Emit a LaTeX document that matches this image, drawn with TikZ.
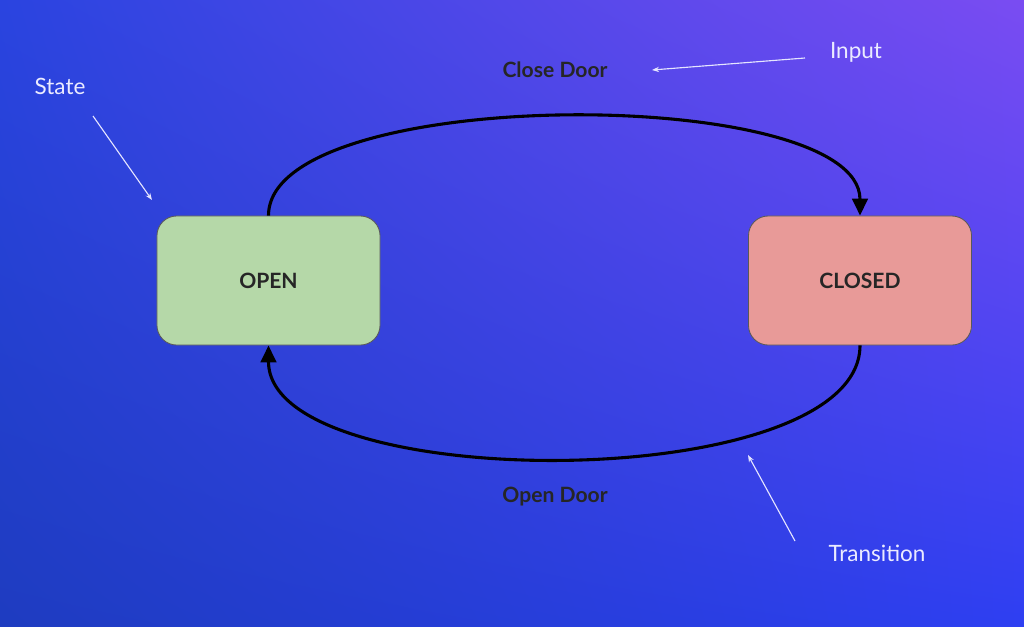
\documentclass[tikz,border=0pt]{standalone}
\usepackage{fontspec}
\setmainfont{Lato}
\usetikzlibrary{arrows.meta,shadings}
\definecolor{bgA}{HTML}{2E3FF2}
\definecolor{bgBL}{HTML}{1E3CC0}
\definecolor{bgTR}{HTML}{7A4CF2}
\definecolor{bgTL}{HTML}{2A44E0}
\definecolor{openc}{HTML}{B5D8A8}
\definecolor{closedc}{HTML}{E89A98}
\begin{document}
\begin{tikzpicture}[x=0.025cm,y=-0.025cm,
  state/.style={draw=gray!70!black,line width=0.6pt,rounded corners=14pt,minimum width=5.575cm,minimum height=3.225cm,font=\fontsize{15}{18}\selectfont\bfseries,text=black!85},
  trans/.style={line width=2.2pt,black,-{Triangle[length=12pt,width=11pt]}},
  lab/.style={font=\fontsize{15}{18}\selectfont\bfseries,text=black!85},
  note/.style={font=\fontsize{16}{19}\selectfont,text=white!92!blue},
  pointer/.style={white!90!blue,line width=0.8pt,-{Stealth[length=5pt]}}]
\shade[upper left=bgTL,upper right=bgTR,lower left=bgBL,lower right=bgA] (0,0) rectangle (1024,626);
\useasboundingbox (0,0) rectangle (1024,626);
\node[state,fill=openc] (open) at (268.5,280.5) {OPEN};
\node[state,fill=closedc] (closed) at (860,280.5) {CLOSED};
\draw[trans] (open.north) .. controls (268.5,84) and (860,84) .. (closed.north);
\draw[trans] (closed.south) .. controls (860,496) and (268.5,496) .. (open.south);
\node[lab] (cd) at (555,70) {Close Door};
\node[lab] (od) at (555,497) {Open Door};
\node[note] (input) at (856,52) {Input};
\node[note] (statel) at (60,86) {State};
\node[note] (tr) at (877,553) {Transition};
\coordinate (a1) at (805,58); \coordinate (a2) at (652,70);
\coordinate (b1) at (93,116); \coordinate (b2) at (152,200);
\coordinate (c1) at (795,541); \coordinate (c2) at (748,455);
\draw[pointer] (a1) -- (a2);
\draw[pointer] (b1) -- (b2);
\draw[pointer] (c1) -- (c2);
\end{tikzpicture}
\end{document}
